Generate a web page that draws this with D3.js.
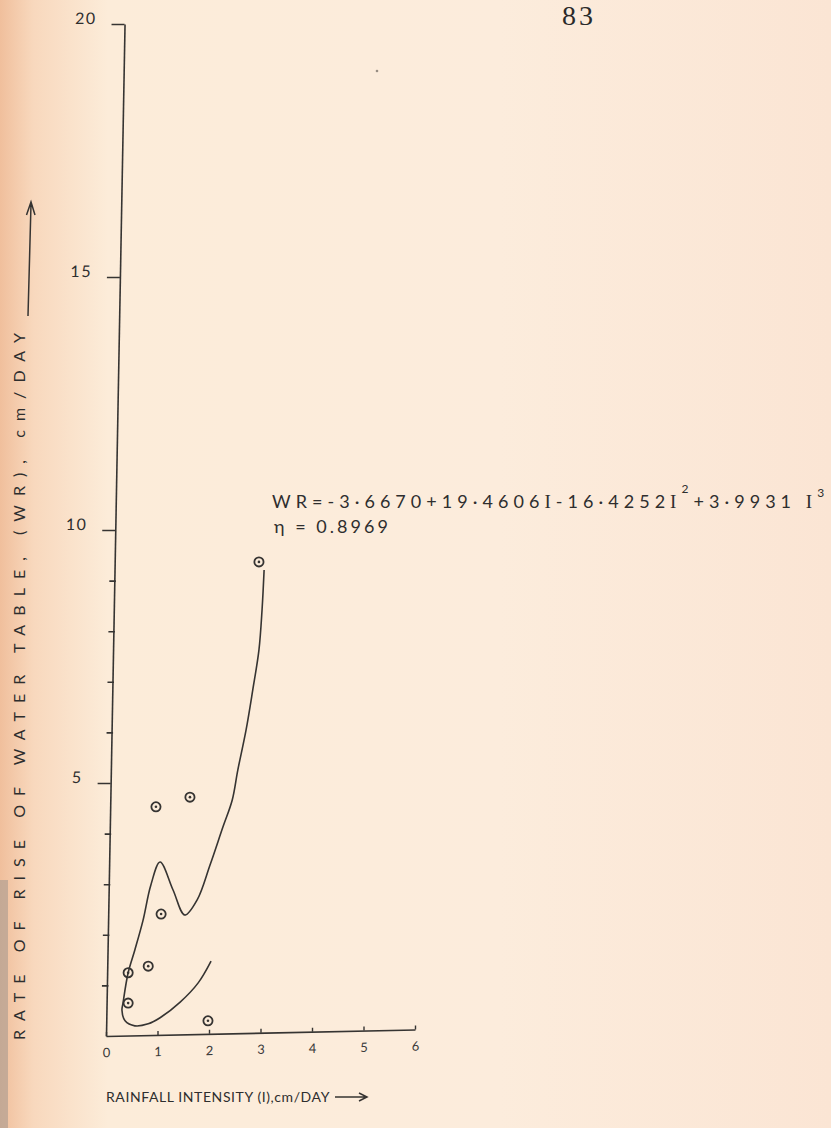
<!DOCTYPE html>
<html>
<head>
<meta charset="utf-8">
<script src="https://cdn.jsdelivr.net/npm/d3@7"></script>
<style>
  html, body { margin: 0; padding: 0; background: #fcefdf; }
  svg { display: block; }
</style>
</head>
<body>
<svg id="chart" width="831" height="1128"></svg>
<script>
// ---- data -------------------------------------------------------------
const xTickValues = [0, 1, 2, 3, 4, 5, 6];
const yMajorTicks = [5, 10, 15, 20];
const yMinorTicks = [1, 2, 3, 4, 6, 7, 8, 9];

// observed rainfall intensity I (cm/day) and rate of rise of water table WR (cm/day)
const observedI  = [2.97, 0.97, 1.63, 1.07, 0.43, 0.82, 0.43, 1.98];
const observedWR = [9.37, 4.53, 4.72, 2.41, 1.25, 1.38, 0.65, 0.30];

// hand-fitted curve, traced from its upper end down to the end of the lower branch
const curveI  = [3.07, 3.03, 2.97, 2.85, 2.72, 2.56, 2.45, 2.27, 2.02, 1.77, 1.53, 1.30, 1.05, 0.87, 0.72, 0.56, 0.43, 0.33, 0.31, 0.37, 0.56, 0.82, 1.05, 1.44, 1.79, 2.04];
const curveWR = [9.21, 8.42, 7.63, 6.84, 6.05, 5.26, 4.66, 4.13, 3.38, 2.69, 2.39, 2.89, 3.44, 2.98, 2.29, 1.70, 1.25, 0.65, 0.51, 0.30, 0.20, 0.24, 0.36, 0.67, 1.05, 1.48];

const pageNumber = "83";
const yTitle = "RATE OF RISE OF WATER TABLE, (WR), cm/DAY";
const xTitle = "RAINFALL  INTENSITY (I),cm/DAY";
// regression equation, split into runs: plain text, the variable I, and exponents
const fitRuns = [
  { t: "WR=-3·6670+19·4606" }, { t: "I", v: true },
  { t: "-16·4252" }, { t: "I", v: true }, { t: "2", sup: 15 },
  { t: "+3·9931 " }, { t: "I", v: true }, { t: "3", sup: 11 }
];
const fitR = "η = 0.8969";

// ---- layout -----------------------------------------------------------
const W = 831, H = 1128;
const origin = { x: 106, y: 1036 };
const ink = "#363432";
const hand = "Lato, 'DejaVu Sans', sans-serif";
const serif = "'Liberation Serif', 'DejaVu Serif', serif";

const svg = d3.select("#chart");

// stretch a text run to a given width by spreading its letters
function fitWidth(sel, target) {
  const node = sel.node();
  const natural = node.getComputedTextLength();
  const n = node.textContent.length;
  sel.attr("letter-spacing", ((target - natural) / Math.max(1, n - 1)).toFixed(2));
}

// paper background
const defs = svg.append("defs");
const paper = defs.append("linearGradient").attr("id", "paper")
  .attr("x1", "0").attr("x2", "1").attr("y1", "0").attr("y2", "0");
paper.append("stop").attr("offset", "0").attr("stop-color", "#f0bf9c");
paper.append("stop").attr("offset", "0.04").attr("stop-color", "#f8d8bd");
paper.append("stop").attr("offset", "0.13").attr("stop-color", "#fcecd9");
paper.append("stop").attr("offset", "0.6").attr("stop-color", "#fcecdc");
paper.append("stop").attr("offset", "1").attr("stop-color", "#fbe5d4");
svg.append("rect").attr("width", W).attr("height", H).attr("fill", "url(#paper)");
svg.append("rect").attr("x", 0).attr("y", 880).attr("width", 8).attr("height", H - 880)
  .attr("fill", "#b6a293").attr("opacity", 0.75);
svg.append("circle").attr("cx", 377).attr("cy", 71).attr("r", 1.3).attr("fill", "#6d6660").attr("opacity", 0.7);

// page number
svg.append("text")
  .attr("x", 562).attr("y", 25)
  .attr("font-family", serif)
  .attr("font-size", 28).attr("letter-spacing", 3)
  .attr("fill", "#2a2a2a")
  .text(pageNumber);

// scales
const x = d3.scaleLinear().domain([0, 6]).range([origin.x, origin.x + 6 * 51.5]);
const y = d3.scaleLinear().domain([0, 20]).range([origin.y, origin.y - 20 * 50.6]);

// y axis (hand-ruled, leaning slightly to the right at the top)
const yLean = `translate(${origin.x},${origin.y}) skewX(-1.05) translate(0,${-origin.y})`;
const yAxis = d3.axisLeft(y).tickValues(yMajorTicks).tickSize(13).tickSizeOuter(0).tickFormat(d3.format("d"));
const ya = svg.append("g").attr("transform", yLean).call(yAxis);
ya.select(".domain").attr("stroke", ink).attr("stroke-width", 1.6);
ya.selectAll(".tick line").attr("stroke", ink).attr("stroke-width", 1.6);
ya.selectAll(".tick text")
  .attr("font-family", hand).attr("font-size", 16).attr("letter-spacing", 1.5)
  .attr("fill", "#2e2e2e").attr("x", -28).attr("dy", "-1");
const yMinor = d3.axisLeft(y).tickValues(yMinorTicks).tickSize(6).tickSizeOuter(0).tickFormat("");
const ym = svg.append("g").attr("transform", yLean).call(yMinor);
ym.select(".domain").remove();
ym.selectAll(".tick line").attr("stroke", ink).attr("stroke-width", 1.6).attr("x2", 1.5).attr("x1", -5);

// x axis (rises a little towards the right)
const xLean = `translate(${origin.x},${origin.y}) skewY(-1.2) translate(${-origin.x},0)`;
const xAxis = d3.axisBottom(x).tickValues(xTickValues).tickSize(-4).tickSizeOuter(0).tickFormat(d3.format("d"));
const xa = svg.append("g").attr("transform", xLean).call(xAxis);
xa.select(".domain").attr("stroke", ink).attr("stroke-width", 1.6);
xa.selectAll(".tick line").attr("stroke", ink).attr("stroke-width", 1.4);
xa.selectAll(".tick text")
  .attr("font-family", hand).attr("font-size", 13).attr("fill", "#3a3a3a")
  .attr("y", 12);

// fitted curve
const curvePts = curveI.map((v, i) => [v, curveWR[i]]);
svg.append("path")
  .datum(curvePts)
  .attr("fill", "none").attr("stroke", ink).attr("stroke-width", 1.6)
  .attr("d", d3.line().x(d => x(d[0])).y(d => y(d[1])).curve(d3.curveCatmullRom.alpha(0.5)));

// observed points
const obs = observedI.map((v, i) => [v, observedWR[i]]);
const pts = svg.selectAll("g.obs").data(obs).join("g").attr("class", "obs")
  .attr("transform", d => `translate(${x(d[0])},${y(d[1])})`);
pts.append("circle").attr("r", 4.6).attr("fill", "none").attr("stroke", ink).attr("stroke-width", 1.8);
pts.append("circle").attr("r", 1.3).attr("fill", ink);

// regression equation and correlation
const eqX = 272, eqY = 508;
const eq = svg.append("text").attr("x", eqX).attr("y", eqY)
  .attr("font-family", hand).attr("font-size", 18).attr("fill", "#2e2e2e");
let lift = 0;
fitRuns.forEach(r => {
  const sp = eq.append("tspan").text(r.t);
  const want = r.sup ? -r.sup : 0;
  if (want !== lift) sp.attr("dy", want - lift);
  lift = want;
  if (r.sup) sp.attr("font-size", 12);
  if (r.v) sp.attr("font-family", serif).attr("font-size", 19);
});
fitWidth(eq, 552);
const rLine = svg.append("text").attr("x", eqX + 2).attr("y", eqY + 25)
  .attr("font-family", hand).attr("font-size", 18).attr("fill", "#2e2e2e").text(fitR);
fitWidth(rLine, 114);

// axis titles
const yt = svg.append("text")
  .attr("transform", `translate(25, 1040) rotate(-90)`)
  .attr("font-family", hand).attr("font-size", 16).attr("fill", "#2e2e2e")
  .text(yTitle);
fitWidth(yt, 707);
svg.append("path")
  .attr("d", "M28,316 L31,204 M26.5,215 L31,202 L35,215")
  .attr("fill", "none").attr("stroke", ink).attr("stroke-width", 1.5);

const xt = svg.append("text")
  .attr("x", 106).attr("y", 1102)
  .attr("font-family", hand).attr("font-size", 14).attr("fill", "#2e2e2e")
  .text(xTitle);
fitWidth(xt, 224);
svg.append("path")
  .attr("d", "M335,1097 L366,1097 M359,1093 L367,1097 L359,1101")
  .attr("fill", "none").attr("stroke", ink).attr("stroke-width", 1.5);
</script>
</body>
</html>
